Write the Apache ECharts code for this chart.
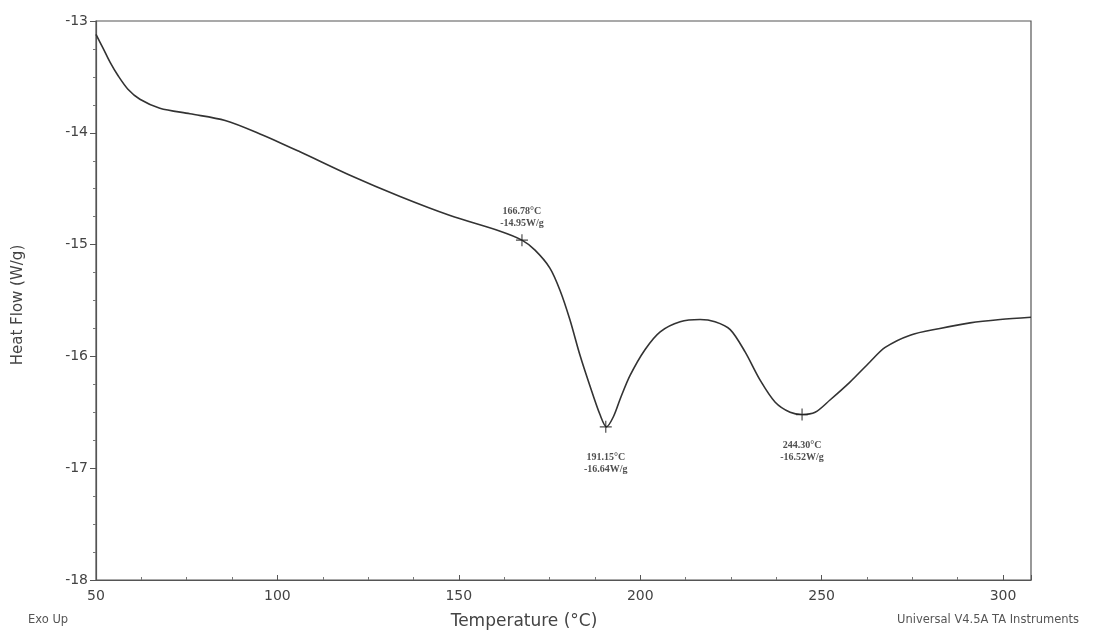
<!DOCTYPE html>
<html>
<head>
<meta charset="utf-8">
<script src="https://cdn.jsdelivr.net/npm/echarts@6/dist/echarts.min.js"></script>
<style>html,body{margin:0;padding:0;background:#fff}#c{width:1093px;height:633px}</style>
</head>
<body>
<div id="c"></div>
<script>
// Temperature (°C)
const temps = [50, 51.9, 53.9, 56.1, 58.8, 62.1, 67.6, 75.9, 85.6, 95.2, 106.2, 120, 133.8, 147.6, 161.4, 167.4, 171, 175.1, 177.9, 180.6, 183.4, 186.1, 188.9, 190.7, 192.6, 194.6, 197.2, 201.3, 205.5, 211, 216.5, 220.6, 224.8, 228.9, 233, 237.2, 241.3, 244.6, 248.2, 252.3, 257.8, 263.3, 267.5, 274.4, 282.6, 290.9, 299.2, 307.7];
// Heat flow (W/g)
const heatFlow = [-13.12, -13.24, -13.37, -13.49, -13.61, -13.70, -13.78, -13.83, -13.89, -14.01, -14.17, -14.38, -14.57, -14.74, -14.88, -14.96, -15.05, -15.21, -15.41, -15.67, -15.99, -16.26, -16.52, -16.63, -16.54, -16.37, -16.17, -15.94, -15.78, -15.69, -15.67, -15.69, -15.76, -15.96, -16.21, -16.41, -16.50, -16.52, -16.50, -16.39, -16.23, -16.05, -15.92, -15.81, -15.75, -15.70, -15.67, -15.65];
// Marked peaks
const peakT = [167.4, 190.5, 244.6];
const peakHF = [-14.96, -16.63, -16.52];
const peakLabels = ['166.78°C\n-14.95W/g', '191.15°C\n-16.64W/g', '244.30°C\n-16.52W/g'];
const peakLabelPos = ['top', 'bottom', 'bottom'];
// Axis ticks
const xTickLabels = [50, 100, 150, 200, 250, 300];
const yTickLabels = [-18, -17, -16, -15, -14, -13];

const chart = echarts.init(document.getElementById('c'), null, {renderer: 'canvas'});
const lineData = temps.map((t, i) => [t, heatFlow[i]]);
const peakData = peakT.map((t, i) => ({
  value: [t, peakHF[i]],
  label: {show: true, formatter: peakLabels[i], position: peakLabelPos[i], distance: peakLabelPos[i] === 'top' ? 4 : 18}
}));
const axisFont = {color: '#444', fontSize: 14, fontFamily: 'DejaVu Sans'};
chart.setOption({
  animation: false,
  grid: {left: 96, right: 62, top: 21, bottom: 53, show: true, borderColor: '#555', borderWidth: 1.2, backgroundColor: 'transparent'},
  xAxis: {
    type: 'value', min: 50, max: 307.7, interval: 50,
    axisLine: {show: true, lineStyle: {color: '#555', width: 1.2}},
    axisTick: {show: true, inside: true, length: 5, lineStyle: {color: '#555'}},
    minorTick: {show: true, splitNumber: 4, length: 3, lineStyle: {color: '#777'}},
    splitLine: {show: false},
    axisLabel: Object.assign({margin: 9, formatter: v => xTickLabels.indexOf(Math.round(v)) >= 0 && Math.abs(v - Math.round(v)) < 1e-6 ? String(Math.round(v)) : ''}, axisFont)
  },
  yAxis: {
    type: 'value', min: -18, max: -13, interval: 1,
    axisLine: {show: true, lineStyle: {color: '#555', width: 1.2}},
    axisTick: {show: true, length: 6, lineStyle: {color: '#555'}},
    minorTick: {show: true, splitNumber: 4, length: 3, lineStyle: {color: '#777'}},
    splitLine: {show: false},
    axisLabel: Object.assign({margin: 8, formatter: v => yTickLabels.indexOf(v) >= 0 ? String(v) : ''}, axisFont)
  },
  series: [
    {
      type: 'line', data: lineData, smooth: 0.3, showSymbol: false,
      lineStyle: {color: '#333', width: 1.6}
    },
    {
      type: 'scatter', data: peakData, z: 5,
      symbol: 'path://M0,5 L10,5 M5,0 L5,10', symbolSize: 12,
      itemStyle: {color: 'transparent', borderColor: '#222', borderWidth: 1.2},
      label: {show: true, color: '#222', fontFamily: 'Liberation Serif', fontWeight: 'bold', fontSize: 10, lineHeight: 12, align: 'center'}
    }
  ],
  graphic: [
    {type: 'text', rotation: Math.PI / 2, x: 18, y: 305, style: {text: 'Heat Flow (W/g)', fill: '#444', font: '15px "DejaVu Sans"', textAlign: 'center', textVerticalAlign: 'middle'}},
    {type: 'text', x: 524, y: 622, style: {text: 'Temperature (°C)', fill: '#444', font: '17px "DejaVu Sans"', textAlign: 'center', textVerticalAlign: 'middle'}},
    {type: 'text', x: 28, y: 620, style: {text: 'Exo Up', fill: '#555', font: '11.5px "DejaVu Sans"', textAlign: 'left', textVerticalAlign: 'middle'}},
    {type: 'text', x: 897, y: 620, style: {text: 'Universal V4.5A TA Instruments', fill: '#555', font: '11.5px "DejaVu Sans"', textAlign: 'left', textVerticalAlign: 'middle'}}
  ]
});
</script>
</body>
</html>
